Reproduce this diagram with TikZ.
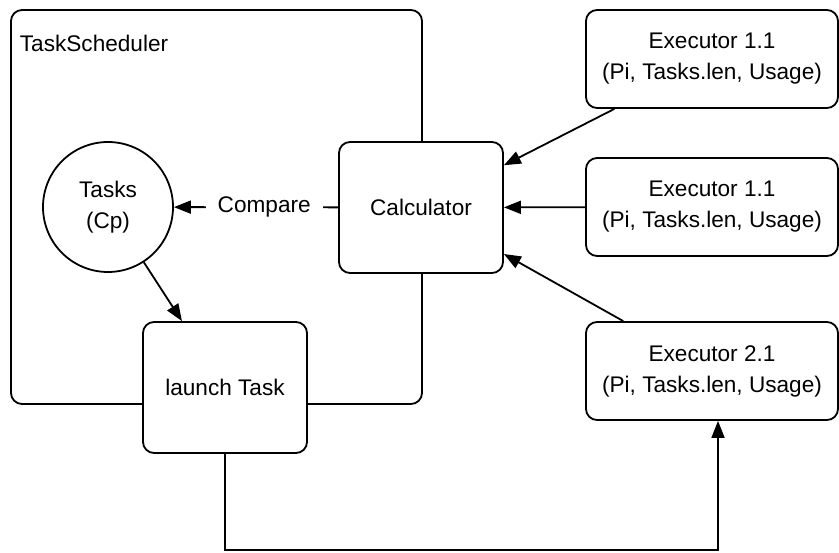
\documentclass[tikz,border=0pt]{standalone}
\usepackage{fontspec}
\setmainfont{Liberation Sans}
\usetikzlibrary{arrows.meta}
\begin{document}
\begin{tikzpicture}[x=1pt,y=-1pt,
  line width=1.8pt,
  every node/.style={font=\fontsize{22.6}{31}\selectfont, align=center, inner sep=0pt},
  rbox/.style={draw, fill=white, rounded corners=11pt},
  arr/.style={-{Triangle[length=17pt,width=13pt]}}]
\useasboundingbox (0,0) rectangle (839,553);
% container
\node[rbox, minimum width=411pt, minimum height=394pt] (sched) at (216.5,207) {};
\node[anchor=west] (schedlabel) at (19,43) {TaskScheduler};
% inner nodes
\node[draw, fill=white, circle, minimum size=130pt] (tasks) at (108,207) {Tasks\\(Cp)};
\node[rbox, minimum width=164pt, minimum height=131pt] (calc) at (421,207.5) {Calculator};
\node[rbox, minimum width=164pt, minimum height=131pt] (launch) at (225,387.5) {launch Task};
% executors
\node[rbox, minimum width=252pt, minimum height=98pt] (e1) at (712,59) {Executor 1.1\\(Pi, Tasks.len, Usage)};
\node[rbox, minimum width=252pt, minimum height=98pt] (e2) at (712,207) {Executor 1.1\\(Pi, Tasks.len, Usage)};
\node[rbox, minimum width=252pt, minimum height=98pt] (e3) at (712,371) {Executor 2.1\\(Pi, Tasks.len, Usage)};
% connectors
\draw[arr] (e1) -- (calc);
\draw[arr] (e2) -- (calc);
\draw[arr] (e3) -- (calc);
\draw[arr] (tasks) -- (launch);
\draw[arr] (calc) -- node[pos=0.45, fill=white, inner xsep=12pt, inner ysep=4pt] (cmp) {Compare} (tasks);
\coordinate (bot) at (466,550);
\draw[arr] (launch.south) |- (bot) -| ([xshift=6pt]e3.south);
\end{tikzpicture}
\end{document}
